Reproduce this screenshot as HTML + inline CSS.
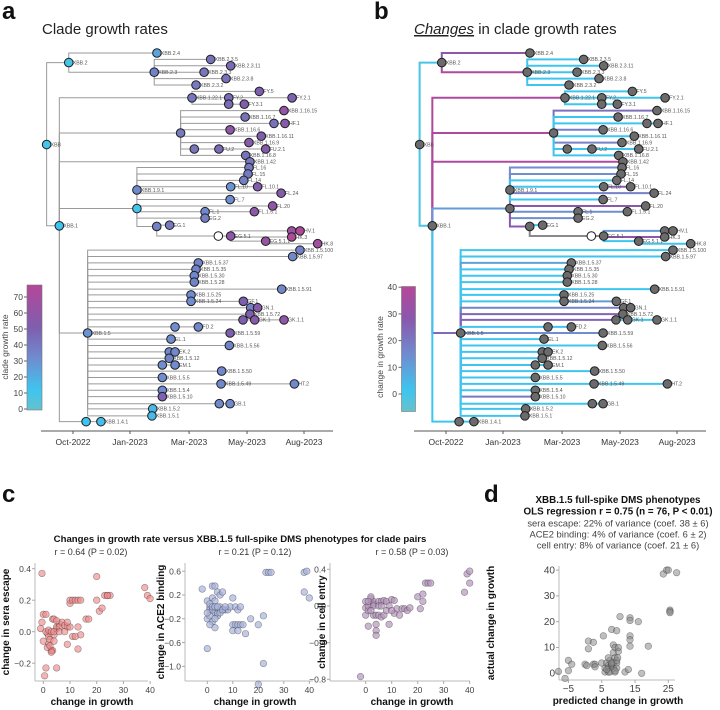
<!DOCTYPE html>
<html><head><meta charset="utf-8">
<style>
html,body{margin:0;padding:0;background:#fff;}
svg{display:block;font-family:"Liberation Sans",Arial,sans-serif;}
</style></head>
<body>
<svg id="fig" width="720" height="710" viewBox="0 0 720 710" xmlns="http://www.w3.org/2000/svg">
<defs>
<linearGradient id="gradA" x1="0" y1="1" x2="0" y2="0">
<stop offset="0" stop-color="#66c2cc"/><stop offset="0.16" stop-color="#3ec5ef"/><stop offset="0.41" stop-color="#6f8dd0"/><stop offset="0.66" stop-color="#7e5eae"/><stop offset="1" stop-color="#b5479a"/>
</linearGradient>
<linearGradient id="gradB" x1="0" y1="1" x2="0" y2="0">
<stop offset="0" stop-color="#66c2cc"/><stop offset="0.17" stop-color="#3ec5ef"/><stop offset="0.45" stop-color="#6f8dd0"/><stop offset="0.74" stop-color="#8a58ad"/><stop offset="1" stop-color="#b5479a"/>
</linearGradient>
</defs>
<g id="root"></g>
</svg>
<script>
// ---- tree data ----
const nodeNames=["XBB","XBB.2","XBB.2.4","XBB.2.3","XBB.2.3.5","XBB.2.3.11","XBB.2.3.3","XBB.2.3.8","XBB.2.3.2","XBB.1",
"XBB.1.22.1","FY.5","FY.2","FY.2.1","","FY.3.1","","XBB.1.16.15","XBB.1.16.7","",
"HF.1","XBB.1.16.6","XBB.1.16.11","XBB.1.16.9","","FU.2","FU.2.1","XBB.1.16.8","XBB.1.42","",
"XBB.1.9.1","FL.16","FL.15","FL.14","FL.10","FL.10.1","FL.24","FL.7","FL.20","FL.1",
"FL.1.5.1","EG.2","","EG.1","","EG.5.1","","HV.1","HK.3","EG.5.1.1",
"HK.8","XBB.1.5","XBB.1.5.100","XBB.1.5.97","XBB.1.5.37","XBB.1.5.35","XBB.1.5.30","XBB.1.5.28","XBB.1.5.91","XBB.1.5.25",
"XBB.1.5.24","GF.1","","GN.1","XBB.1.5.72","","GK.1","GK.1.1","","FD.2",
"XBB.1.5.59","EL.1","XBB.1.5.56","","EK.2","XBB.1.5.12","","EM.1","XBB.1.5.50","XBB.1.5.5",
"XBB.1.5.49","HT.2","XBB.1.5.4","XBB.1.5.10","","GB.1","XBB.1.5.2","XBB.1.5.1","","XBB.1.4.1"];
const nodeParents=[-1,0,1,1,3,3,3,3,3,0,
9,10,10,12,10,14,9,16,16,16,
19,16,16,16,16,24,25,16,9,9,
29,30,30,30,30,34,30,30,29,29,
39,29,29,42,42,44,45,46,45,45,
49,9,51,51,51,51,51,51,51,51,
51,60,51,62,51,51,65,66,51,68,
51,51,51,51,73,51,51,76,51,51,
51,80,51,51,51,84,51,51,9,88];
const nodeTimes=[-1.37,-0.22,4.36,4.22,7.15,8.19,6.81,7.95,6.39,-0.71,
6.18,9.68,8.09,11.38,8.09,8.9,5.59,10.96,8.94,10.44,
11.01,8.16,9.78,9.14,6.3,7.58,10.01,8.97,9.19,3.32,
3.32,9.14,9.09,8.87,8.19,9.59,10.81,8.16,10.37,6.86,
9.42,6.86,4.35,5.02,7.55,8.19,11.36,11.79,11.36,10.01,
12.71,0.76,11.79,11.41,6.51,6.39,6.3,6.3,10.84,6.13,
6.13,8.85,9.23,9.59,9.19,8.83,9.44,10.96,5.3,6.51,
8.16,5.09,8.12,5.0,5.3,5.0,4.64,5.3,7.72,4.64,
7.69,11.5,4.64,4.64,7.6,8.16,4.14,4.1,0.68,1.45];
const nodeRows=[14.3,1.5,0,3,1,2,3,4,5,27,
7,6,7,7,8,8,12.5,9,10,11,
11,12,13,14,15,15,15,16,17,24.3,
21.4,17.9,18.9,19.9,20.9,20.9,21.9,22.9,23.9,24.8,
24.8,25.8,27.1,26.9,28.6,28.6,27.8,27.8,28.75,29.4,
29.8,43.75,30.8,31.8,32.8,33.8,34.8,35.8,36.9,37.8,
38.8,38.8,39.8,39.8,40.8,41.7,41.7,41.7,42.8,42.8,
43.75,44.7,45.7,46.7,46.7,47.7,48.75,48.75,49.7,50.7,
51.7,51.7,52.7,53.7,54.8,54.8,55.6,56.7,57.6,57.6];
const nodeGrowth=[8,8,22,35,42,45,40,42,38,10,
40,50,45,48,45,52,38,60,42,42,
55,58,50,55,40,45,55,42,40,8,
32,38,38,36,28,52,55,30,58,32,
58,36,35,38,null,58,65,75,75,62,
68,28,35,32,34,34,32,34,32,30,
30,50,35,55,50,50,55,58,30,32,
50,30,34,32,32,34,30,30,32,30,
32,32,30,48,32,32,14,14,10,12];
const nodeChange=[0,0,28,38,2,2,2,2,2,0,
38,2,2,2,2,2,38,22,2,2,
2,18,2,18,2,2,2,2,38,12,
15,15,15,2,2,26,18,2,28,15,
15,15,28,2,null,null,12,2,30,2,
2,24,2,2,10,2,2,2,2,2,
2,12,18,2,25,25,2,2,2,2,
15,2,2,2,2,2,2,2,2,2,
2,2,2,20,2,2,2,2,2,2];
const timeTicks=[0,2.96,6.03,9.04,12.0];
const timeTickLabels=["Oct-2022","Jan-2023","Mar-2023","May-2023","Aug-2023"];
const growthTicks=[0,10,20,30,40,50,60,70];
const changeTicks=[0,10,20,30,40];

// ---- scatter data ----
const seraX=[-0.5,-1,-0.5,0,1,0,1,0.5,1.5,2,2,2.5,3,3,3.5,3,3.5,4,4,4,5,5,5,6,6,7,8,9,9,10,10,10,11,12,13,14,11,12,13,13,14,16,17,20,20,21,22,23,24,25,24,38,39,40,1,2,3,4,6,1.5,2.5,8,9,5];
const seraY=[0.37,0.02,0.06,0.11,0.11,-0.06,-0.23,-0.28,-0.01,-0.03,-0.08,-0.05,-0.12,-0.12,-0.12,-0.13,0.08,0.08,-0.02,-0.06,0.02,-0.23,0.03,0.05,0.03,0.06,0.04,-0.08,0.03,0.03,0.18,0.2,0.2,0.2,0.2,0.2,-0.03,-0.03,-0.11,0.03,-0.02,0.08,0.08,0.35,0.2,0.13,0.15,0.23,0.23,0.23,0.23,0.28,0.23,0.21,0.0,0.01,0.0,0.0,0.0,-0.1,-0.09,0.0,0.06,0.07];
const ace2X=[-2,0,0,0,1,1,2,2,3,3,4,5,6,3,4,4,5,6,7,2,1,2,3,3,5,8,9,10,11,12,13,10,11,12,13,14,10,12,15,17,20,22,22,20,23,24,25,38,39,38,40,0,1,2,3,4,5,6,7,1];
const ace2Y=[0.3,-0.7,-0.2,0.1,0.0,-0.05,0.15,0.35,0.35,0.1,0.25,0.2,0.25,-0.1,-0.15,-0.1,-0.05,-0.05,-0.05,-0.05,-0.15,-0.25,-0.35,-0.2,0.0,-0.05,0.0,0.15,0.0,-0.05,0.0,-0.3,-0.3,-0.3,-0.3,-0.3,-0.4,-0.4,-0.45,-0.2,-0.3,-0.15,-0.95,-1.3,0.58,0.58,0.58,0.58,0.6,0.25,0.15,-0.1,0.05,0.0,0.0,0.0,-0.1,-0.05,0.0,-0.3];
const entryX=[-2,0,0,0,1,1,2,2,3,3,4,4,4,3,4,5,6,7,5,6,7,8,9,10,11,11,12,13,14,15,16,17,9,20,21,22,22,23,24,25,38,39,40,40,1,2,3,5,6,2,8,10,1];
const entryY=[-0.77,0.05,-0.02,-0.1,-0.05,-0.22,0.08,0.02,0.05,0.02,-0.2,-0.27,-0.32,-0.1,-0.1,-0.1,-0.12,-0.1,0.05,0.05,0.06,0.05,0.0,0.07,0.06,-0.08,-0.03,-0.1,-0.03,-0.03,-0.05,-0.02,-0.2,0.1,-0.03,0.05,0.13,0.25,0.25,0.25,0.15,0.35,0.38,0.25,0.0,0.1,0.0,0.0,0.0,-0.05,-0.05,-0.05,0.05];
const predX=[-8,-6,-5,-5,-4,0,0.5,1,1,2.5,2.5,3,3,5,5.5,6,6,6.5,7,7,7,7.5,7.5,8,8,8,8.5,8.5,8.5,8.5,9,9,9,9.5,9.5,9.5,9.5,9.8,10,10,10.5,12,13,13.5,13.5,13.5,13.5,13.5,16,17,19,23.5,24.5,25,25.5,25.5,25.5,27.5,8,9,7,6.5];
const actualY=[0.7,-2,5,1,3.5,3.5,3,9.5,12.5,12,3.5,3.5,2.5,4,14.5,2,0.5,4,3,2,0.5,5,0.5,3,3.5,17,11,8,2,4,6,0.5,10,4,2,16.5,5,6,8.5,10,22,0.5,1.5,14.5,13,10.5,21.5,20.5,20,0,10.5,38.5,40,40,24.5,24,23.5,39,4,1,6,1.5];

const NS="http://www.w3.org/2000/svg";
const root=document.getElementById('root');
function mk(tag,attrs,parent,text){const e=document.createElementNS(NS,tag);for(const k in attrs)e.setAttribute(k,attrs[k]);if(text!==undefined)e.textContent=text;(parent||root).appendChild(e);return e;}
function lerpColor(stops,v){if(v<=stops[0][0])return stops[0][1];for(let i=1;i<stops.length;i++){if(v<=stops[i][0]){const a=stops[i-1],b=stops[i];const t=(v-a[0])/(b[0]-a[0]);const ca=hex(a[1]),cb=hex(b[1]);return 'rgb('+ca.map((c,j)=>Math.round(c+(cb[j]-c)*t)).join(',')+')';}}return stops[stops.length-1][1];}
function hex(h){return [1,3,5].map(i=>parseInt(h.substr(i,2),16));}
const stopsA=[[-3,'#66c2cc'],[10,'#3ec5ef'],[30,'#6f8dd0'],[50,'#7e5eae'],[77,'#b5479a']];
const stopsB=[[-6,'#66c2cc'],[2,'#3ec5ef'],[15,'#6f8dd0'],[28,'#8a58ad'],[40,'#b5479a']];

let t;
t=mk('text',{x:2,y:19,'font-size':24,'font-weight':'bold',fill:'#111'},root,'a');

t=mk('text',{x:42,y:34,'font-size':15,fill:'#222'},root,'Clade growth rates');

t=mk('text',{x:374,y:19,'font-size':24,'font-weight':'bold',fill:'#111'},root,'b');

t=mk('text',{x:414,y:34,'font-size':15,fill:'#222'},root);

mk('tspan',{'font-style':'italic','text-decoration':'underline'},t,'Changes');
mk('tspan',{},t,' in clade growth rates');

function drawTree(ox,mode){
  const g=mk('g',{});
  
  
  const xs=v=>ox+73+v*19.25;
  const ys=r=>53+r*6.4;
  for(let i=0;i<nodeNames.length;i++){
    const p=nodeParents[i]; if(p<0)continue;
    let col='#9a9a9a',w=1;
    if(mode==='b'){w=2;col=nodeChange[i]===null?'#8a8a8a':lerpColor(stopsB,nodeChange[i]);}
    const e=mk('path',{d:`M${xs(nodeTimes[p])},${ys(nodeRows[p])}V${ys(nodeRows[i])}H${xs(nodeTimes[i])}`,fill:'none',stroke:col,'stroke-width':w},g);
    
  }
  for(let i=0;i<nodeNames.length;i++){
    let fill;
    if(nodeGrowth[i]===null) fill='#fff';
    else fill=mode==='a'?lerpColor(stopsA,nodeGrowth[i]):'#6b6b6b';
    const c=mk('circle',{cx:xs(nodeTimes[i]),cy:ys(nodeRows[i]),r:4.3,fill:fill,stroke:'#1e1e1e','stroke-width':1},g);
    
    if(nodeNames[i]){
      const l=mk('text',{x:xs(nodeTimes[i])+4,y:ys(nodeRows[i])+1.8,'font-size':5.2,fill:'#555'},g,nodeNames[i]);
      
    }
  }
  const ax=mk('line',{x1:ox+41,x2:ox+333,y1:431,y2:431,stroke:'#555','stroke-width':1},g);
  
  timeTicks.forEach((v,k)=>{
    const tk=mk('line',{x1:xs(v),x2:xs(v),y1:431,y2:434,stroke:'#555'},g);
    
    const tl=mk('text',{x:xs(v),y:445,'font-size':8.5,fill:'#333','text-anchor':'middle'},g,timeTickLabels[k]);
    
  });
  if(mode==='a'){
    const cb=mk('rect',{x:27,y:285,width:15,height:125,fill:'url(#gradA)',stroke:'#777','stroke-width':0.6},g);
    
    const cy=v=>409-v*1.6;
    growthTicks.forEach(v=>{
      mk('line',{x1:24,x2:27,y1:cy(v),y2:cy(v),stroke:'#666'},g);
      const tl=mk('text',{x:23,y:cy(v)+3,'font-size':8.5,fill:'#444','text-anchor':'end'},g,String(v));
      
    });
    const lab=mk('text',{x:0,y:0,'font-size':8.5,fill:'#444','text-anchor':'middle',transform:'translate(8,347) rotate(-90)'},g,'clade growth rate');
    
  } else {
    const cb=mk('rect',{x:401.5,y:286.5,width:14,height:125,fill:'url(#gradB)',stroke:'#777','stroke-width':0.6},g);
    
    const cy=v=>394-v*2.67;
    changeTicks.forEach(v=>{
      mk('line',{x1:398.5,x2:401.5,y1:cy(v),y2:cy(v),stroke:'#666'},g);
      const tl=mk('text',{x:397,y:cy(v)+3,'font-size':8.5,fill:'#444','text-anchor':'end'},g,String(v));
      
    });
    const lab=mk('text',{x:0,y:0,'font-size':8.5,fill:'#444','text-anchor':'middle',transform:'translate(383,357) rotate(-90)'},g,'change in growth rate');
    
  }
}
drawTree(0,'a');
drawTree(373,'b');

t=mk('text',{x:2,y:502,'font-size':24,'font-weight':'bold',fill:'#111'},root,'c');

t=mk('text',{x:240,y:542,'font-size':9.6,'font-weight':'bold',fill:'#111','text-anchor':'middle'},root,'Changes in growth rate versus XBB.1.5 full-spike DMS phenotypes for clade pairs');

t=mk('text',{x:484,y:502,'font-size':24,'font-weight':'bold',fill:'#111'},root,'d');


function fmt(v,dec){const s=dec?v.toFixed(1):String(v);return s.replace('-','\u2212');}
function scatter(cfg){
  const g=mk('g',{});
  
  const xs=v=>cfg.x0+(v-cfg.xv0)*cfg.xk;
  const ys=v=>cfg.y0-(v-cfg.yv0)*cfg.yk;
  const sl=mk('line',{x1:cfg.left,x2:cfg.left,y1:cfg.top,y2:cfg.bottom,stroke:'#bbb'},g);
  
  const sb=mk('line',{x1:cfg.left,x2:cfg.right,y1:cfg.bottom,y2:cfg.bottom,stroke:'#bbb'},g);
  
  cfg.xt.forEach(v=>{
    mk('line',{x1:xs(v),x2:xs(v),y1:cfg.bottom,y2:cfg.bottom+3,stroke:'#aaa'},g);
    const l=mk('text',{x:xs(v),y:cfg.bottom+12,'font-size':cfg.fs,fill:'#444','text-anchor':'middle'},g,fmt(v,false));
    
  });
  cfg.yt.forEach(v=>{
    mk('line',{x1:cfg.left-3,x2:cfg.left,y1:ys(v),y2:ys(v),stroke:'#aaa'},g);
    const l=mk('text',{x:cfg.left-4,y:ys(v)+3.2,'font-size':cfg.fs,fill:'#444','text-anchor':'end'},g,fmt(v,cfg.dec));
    
  });
  cfg.px.forEach((v,i)=>{
    const c=mk('circle',{cx:xs(v),cy:ys(cfg.py[i]),r:3.3,fill:cfg.fill,'fill-opacity':cfg.op,stroke:'#333','stroke-opacity':0.5,'stroke-width':0.6},g);
    
  });
  const xl=mk('text',{x:cfg.xlx,y:cfg.bottom+24,'font-size':10,'font-weight':'bold',fill:'#111','text-anchor':'middle'},g,cfg.xlabel);
  
  const yl=mk('text',{x:0,y:0,'font-size':10,'font-weight':'bold',fill:'#111','text-anchor':'middle',transform:`translate(${cfg.ylx},${(cfg.top+cfg.bottom)/2}) rotate(-90)`},g,cfg.ylabel);
  
  if(cfg.rtext){const r=mk('text',{x:cfg.rx,y:cfg.top-8,'font-size':9,fill:'#333','text-anchor':'middle'},g,cfg.rtext);
    }
}
scatter({name:'sera-escape-scatter',left:35,right:148,top:563,bottom:681,x0:43.3,xv0:0,xk:2.67,y0:631.7,yv0:0,yk:157.5,
  xt:[0,10,20,30,40],yt:[-0.2,0.0,0.2,0.4],dec:true,px:seraX,py:seraY,fill:'#f08a8a',op:0.65,fs:8.5,
  xlabel:'change in growth',xlx:92,ylabel:'change in sera escape',ylx:9,rtext:'r = 0.64 (P = 0.02)',rx:91});
scatter({name:'ace2-binding-scatter',left:185,right:313,top:563,bottom:681,x0:207.3,xv0:0,xk:2.55,y0:595,yv0:0.2,yk:59.5,
  xt:[0,10,20,30,40],yt:[-1.0,-0.6,-0.2,0.2,0.6],dec:true,px:ace2X,py:ace2Y,fill:'#a8b4de',op:0.7,fs:8.5,
  xlabel:'change in growth',xlx:255,ylabel:'change in ACE2 binding',ylx:164,rtext:'r = 0.21 (P = 0.12)',rx:255});
scatter({name:'cell-entry-scatter',left:330,right:470,top:563,bottom:681,x0:365.7,xv0:0,xk:2.6,y0:606,yv0:0,yk:91.7,
  xt:[0,10,20,30,40],yt:[-0.8,-0.4,0.0,0.4],dec:true,px:entryX,py:entryY,fill:'#b596bc',op:0.7,fs:8.5,
  xlabel:'change in growth',xlx:412,ylabel:'change in cell entry',ylx:325,rtext:'r = 0.58 (P = 0.03)',rx:412});

const dLines=[['XBB.1.5 full-spike DMS phenotypes',true,503],['OLS regression r = 0.75 (n = 76, P < 0.01)',true,514.5],
 ['sera escape: 22% of variance (coef. 38 \u00b1 6)',false,526.5],['ACE2 binding: 4% of variance (coef. 6 \u00b1 2)',false,537.5],['cell entry: 8% of variance (coef. 21 \u00b1 6)',false,548.5]];
dLines.forEach((l,i)=>{
  const tx=mk('text',{x:618,y:l[2],'font-size':l[1]?9.8:9.4,'font-weight':l[1]?'bold':'normal',fill:l[1]?'#111':'#444','text-anchor':'middle'},root,l[0]);
  
});
scatter({name:'predicted-vs-actual-scatter',left:559,right:675,top:566,bottom:680,x0:601.7,xv0:5,xk:3.33,y0:673.3,yv0:0,yk:2.58,
  xt:[-5,5,15,25],yt:[0,10,20,30,40],dec:false,px:predX,py:actualY,fill:'#8a8a8a',op:0.55,fs:10,
  xlabel:'predicted change in growth',xlx:618,ylabel:'actual change in growth',ylx:494});
</script>
</body></html>
